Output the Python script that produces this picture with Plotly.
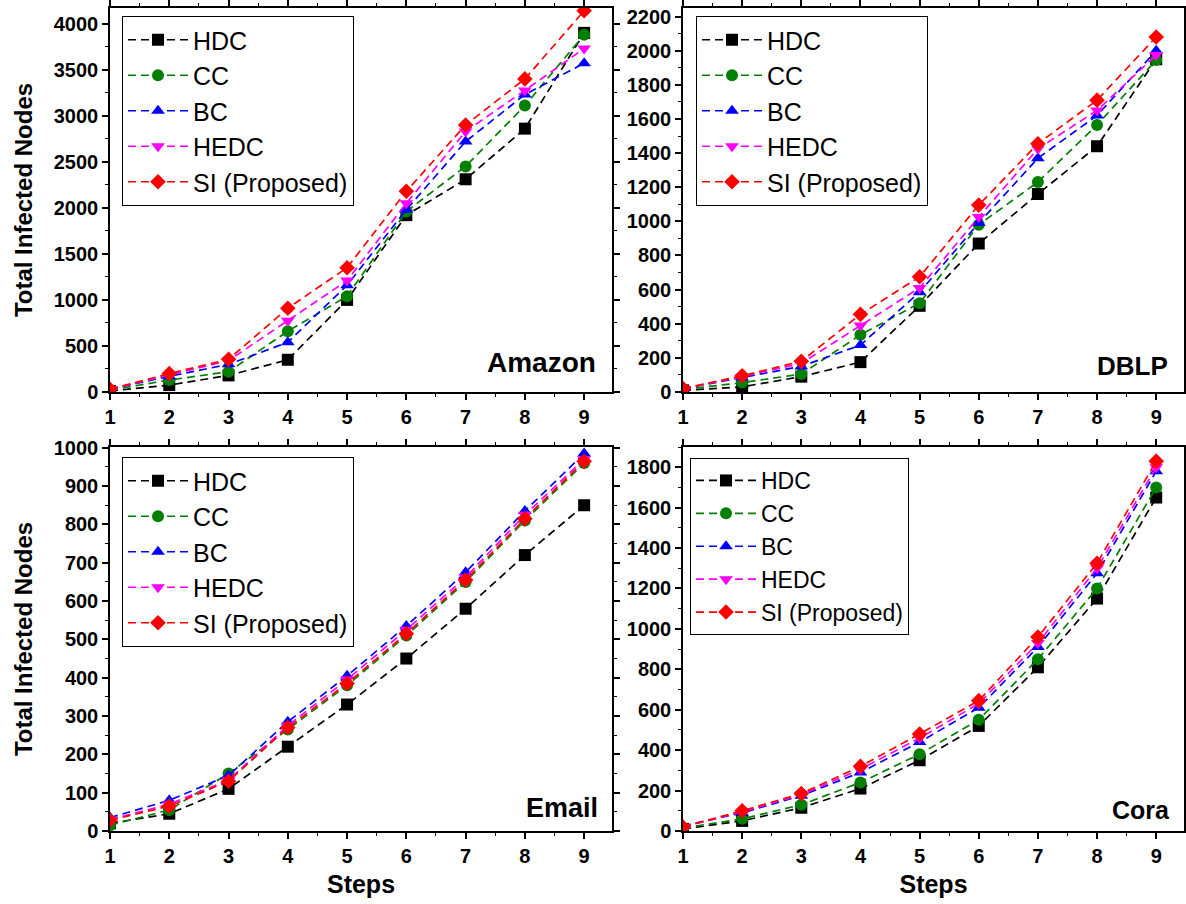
import plotly.graph_objects as go

# ---------------- data ----------------
steps = [1, 2, 3, 4, 5, 6, 7, 8, 9]
series_names = ["HDC", "CC", "BC", "HEDC", "SI (Proposed)"]
panel_names = ["Amazon", "DBLP", "Email", "Cora"]

amazon_hdc = [10, 75, 180, 350, 1000, 1920, 2310, 2860, 3900]
amazon_cc = [20, 130, 220, 660, 1040, 1960, 2450, 3110, 3880]
amazon_bc = [30, 170, 300, 540, 1160, 1980, 2720, 3230, 3570]
amazon_hedc = [30, 185, 340, 775, 1210, 2050, 2830, 3275, 3730]
amazon_si = [30, 200, 355, 910, 1350, 2180, 2900, 3400, 4140]

dblp_hdc = [10, 30, 90, 175, 505, 870, 1160, 1440, 1950]
dblp_cc = [15, 55, 105, 335, 520, 980, 1230, 1565, 1945]
dblp_bc = [20, 85, 150, 275, 585, 990, 1370, 1620, 2000]
dblp_hedc = [20, 90, 168, 390, 610, 1025, 1425, 1650, 1975]
dblp_si = [20, 95, 180, 455, 675, 1095, 1455, 1710, 2080]

email_hdc = [20, 45, 110, 220, 330, 450, 580, 720, 850]
email_cc = [15, 55, 150, 265, 380, 510, 650, 810, 960]
email_bc = [35, 80, 145, 285, 405, 535, 675, 835, 985]
email_hedc = [30, 70, 133, 275, 395, 525, 662, 825, 970]
email_si = [28, 65, 130, 270, 385, 515, 655, 815, 965]

cora_hdc = [10, 50, 115, 210, 350, 520, 810, 1150, 1650]
cora_cc = [15, 60, 130, 240, 380, 550, 850, 1200, 1700]
cora_bc = [25, 90, 175, 290, 440, 610, 910, 1275, 1780]
cora_hedc = [20, 95, 180, 305, 460, 630, 930, 1300, 1800]
cora_si = [20, 100, 185, 320, 480, 645, 960, 1325, 1830]

y_max = [4170, 2250, 1002, 1900]
y_dtick = [500, 200, 100, 200]

# ---------------- styling ----------------
colors = ["#000000", "#008000", "#0000FF", "#FF00FF", "#FF0000"]
symbols = ["square", "circle", "triangle-up", "triangle-down", "diamond"]
panel_data = [
    [amazon_hdc, amazon_cc, amazon_bc, amazon_hedc, amazon_si],
    [dblp_hdc, dblp_cc, dblp_bc, dblp_hedc, dblp_si],
    [email_hdc, email_cc, email_bc, email_hedc, email_si],
    [cora_hdc, cora_cc, cora_bc, cora_hedc, cora_si],
]

W, H = 1186, 904
# plot areas in pixels (left, right, top, bottom)
areas = [(110, 612, 8, 392), (683, 1184, 8, 392), (110, 612, 447, 831), (683, 1184, 447, 831)]
legend_pos = [(122, 16), (696, 16), (122, 457), (690, 458)]
legend_font = [25, 25, 25, 23]
ann = [(0.972, 0.078, 28), (0.972, 0.068, 26), (0.976, 0.06, 27), (0.976, 0.055, 25)]

FONT = "Liberation Sans, Arial, sans-serif"

fig = go.Figure()
layout = dict(
    width=W, height=H,
    margin=dict(l=0, r=0, t=0, b=0, autoexpand=False),
    paper_bgcolor="white", plot_bgcolor="white",
    font=dict(family=FONT, color="black"),
    annotations=[],
)

for p in range(4):
    suffix = "" if p == 0 else str(p + 1)
    xa, ya = "x" + suffix, "y" + suffix
    lg = "legend" + suffix
    for s in range(5):
        fig.add_trace(go.Scatter(
            x=steps, y=panel_data[p][s], name=series_names[s],
            mode="lines+markers", xaxis=xa, yaxis=ya, legend=lg,
            line=dict(color=colors[s], width=1.7, dash="8px,5px"),
            marker=dict(symbol=symbols[s], size=12, color=colors[s]),
        ))
    l, r, t, b = areas[p]
    xdom = [l / W, r / W]
    ydom = [1 - b / H, 1 - t / H]
    bottom = p >= 2
    left = p % 2 == 0
    axis_common = dict(
        showline=True, linecolor="black", linewidth=1.5, mirror="ticks",
        ticks="outside", ticklen=6, tickwidth=1.5, tickcolor="black",
        showgrid=False, zeroline=False, automargin=False,
        tickfont=dict(family=FONT, size=20, color="black", weight="bold"),
    )
    layout["xaxis" + suffix] = dict(
        axis_common, domain=xdom, anchor=ya, range=[1, 9.47],
        tickmode="array", tickvals=steps, ticktext=[str(v) for v in steps],
        minor=dict(ticks="outside", ticklen=3, tickwidth=1.2, dtick=0.5, tick0=1.5, tickcolor="black"),
        title=dict(text="Steps" if bottom else "", font=dict(family=FONT, size=25, weight="bold"), standoff=10),
    )
    layout["yaxis" + suffix] = dict(
        axis_common, domain=ydom, anchor=xa, range=[0, y_max[p]],
        tick0=0, dtick=y_dtick[p],
        minor=dict(ticks="outside", ticklen=3, tickwidth=1.2, dtick=y_dtick[p] / 2, tickcolor="black"),
        title=dict(text="Total Infected Nodes" if left else "", font=dict(family=FONT, size=24, weight="bold"), standoff=14),
    )
    lx, ly = legend_pos[p]
    layout[lg] = dict(
        x=lx / W, y=1 - ly / H, xanchor="left", yanchor="top",
        xref="paper", yref="paper",
        bgcolor="white", bordercolor="black", borderwidth=1,
        font=dict(family=FONT, size=legend_font[p], color="black"),
        itemwidth=60, tracegroupgap=0,
    )
    ax_, ay_, fs = ann[p]
    layout["annotations"].append(dict(
        text="<b>" + panel_names[p] + "</b>", xref=xa + " domain", yref=ya + " domain",
        x=ax_, y=ay_, xanchor="right", yanchor="middle", showarrow=False,
        font=dict(family=FONT, size=fs, color="black"),
    ))

fig.update_layout(**layout)
fig.write_html("out.html", config={"displayModeBar": False},
               post_script="document.body.style.margin='0';")
